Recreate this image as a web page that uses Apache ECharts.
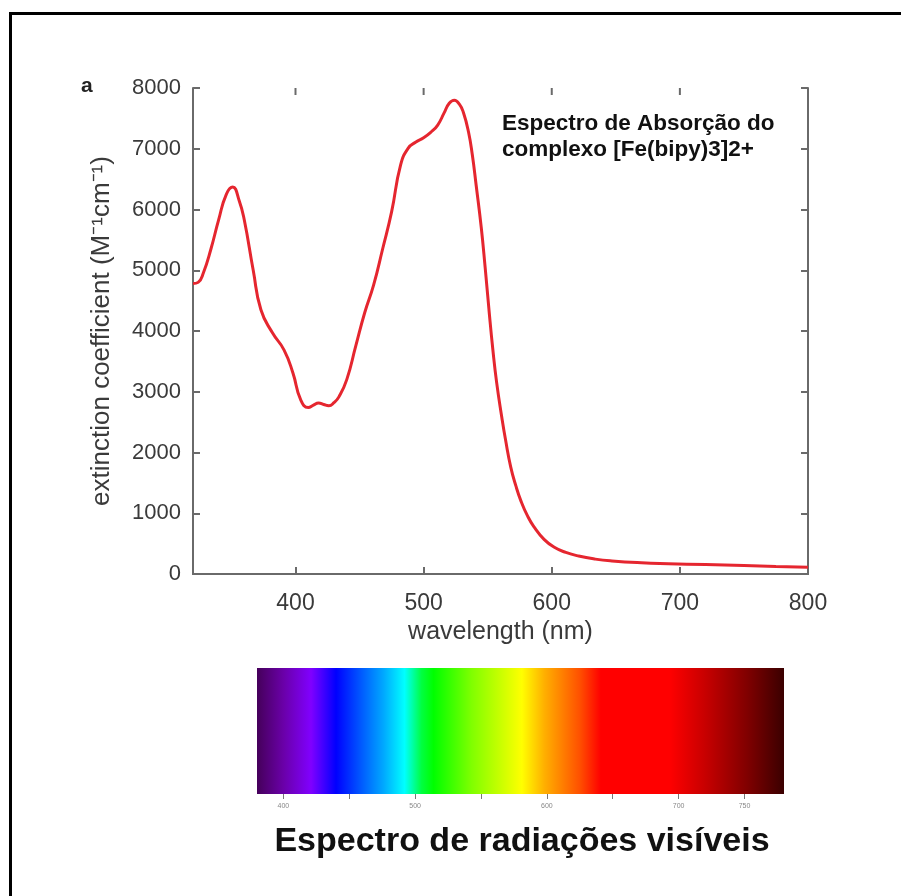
<!DOCTYPE html>
<html>
<head>
<meta charset="utf-8">
<script src="https://cdn.jsdelivr.net/npm/echarts@6/dist/echarts.min.js"></script>
<style>
  html, body { margin: 0; padding: 0; background: #fff; }
  #frame {
    position: absolute; left: 9px; top: 12px; width: 892px; height: 884px;
    border-left: 3px solid #000; border-top: 3px solid #000;
  }
  #chart { position: absolute; left: 0; top: 0; width: 901px; height: 896px; }
</style>
</head>
<body>
<div id="frame"></div>
<div id="chart"></div>
<script>
// absorption spectrum of [Fe(bipy)3]2+
const wavelength = [320, 324, 328, 334, 340, 346, 351, 356, 360, 367, 373, 382, 391, 398, 404, 410, 414, 418, 422, 426, 430, 434, 440, 447, 454, 461, 468, 475, 482, 488, 494, 500, 506, 511, 516, 520, 524, 528, 531, 535, 538, 541, 545, 548, 551, 554, 557, 561, 564, 568, 572, 576, 581, 586, 594, 602, 611, 621, 634, 647, 670, 691, 720, 750, 775, 800];
const extinction = [4780, 4800, 4950, 5350, 5830, 6250, 6370, 6150, 5830, 5000, 4350, 3970, 3690, 3310, 2870, 2740, 2780, 2815, 2790, 2770, 2820, 2920, 3200, 3750, 4300, 4760, 5350, 5960, 6730, 7010, 7110, 7180, 7280, 7390, 7590, 7750, 7800, 7730, 7600, 7280, 6900, 6400, 5700, 5050, 4350, 3700, 3150, 2580, 2200, 1760, 1450, 1200, 960, 780, 570, 440, 355, 295, 245, 215, 185, 170, 155, 140, 125, 112];

const xTicks = [400, 500, 600, 700, 800];
const yMax = 8000;

// visible spectrum bar
const specWl = [380, 400, 421, 440, 457, 476, 492, 505, 514, 543, 581, 598, 625, 641, 693, 720, 752, 780];
const specColor = ['#45005a', '#6a00a8', '#8000ff', '#0000ff', '#0050ff', '#00a8ff', '#00ffff', '#00ff40', '#00ff00', '#80ff00', '#ffff00', '#ffb000', '#ff5000', '#ff0000', '#ff0000', '#c80000', '#800000', '#3a0000'];
const specTicks = [400, 450, 500, 550, 600, 650, 700, 750];
const specLabels = [400, 500, 600, 700, 750];

const chart = echarts.init(document.getElementById('chart'));
const txt = '#3a3a3a';
const axisCol = '#6a6a6a';

chart.setOption({
  animation: false,
  textStyle: { fontFamily: 'Liberation Sans, Arial, sans-serif' },
  grid: [
    { left: 193, top: 88, width: 615, height: 486 },
    { left: 257, top: 668, width: 527, height: 126 }
  ],
  graphic: [
    { type: 'text', x: 81, y: 76, style: { text: 'a', font: 'bold 21px Liberation Sans', fill: '#222' } },
    { type: 'text', x: 502, y: 111, style: { text: 'Espectro de Absorção do\ncomplexo [Fe(bipy)3]2+', font: 'bold 22.5px Liberation Sans', fill: '#111', lineHeight: 26 } },
    { type: 'text', x: 522, y: 825, style: { text: 'Espectro de radiações visíveis', font: 'bold 34px Liberation Sans', fill: '#111', align: 'center' } }
  ],
  xAxis: [
    {
      gridIndex: 0, type: 'value', min: 320, max: 800, position: 'bottom',
      name: 'wavelength (nm)', nameLocation: 'middle', nameGap: 45,
      nameTextStyle: { fontSize: 25, color: txt },
      axisLine: { lineStyle: { color: axisCol, width: 2 } },
      axisTick: { inside: true, length: 7, customValues: xTicks, lineStyle: { color: axisCol, width: 2 } },
      axisLabel: { customValues: xTicks, fontSize: 23, color: txt, margin: 18 },
      splitLine: { show: false }
    },
    {
      gridIndex: 0, type: 'value', min: 320, max: 800, position: 'top',
      axisLine: { lineStyle: { color: axisCol, width: 2 } },
      axisTick: { show: false },
      axisLabel: { show: false },
      splitLine: { show: false }
    },
    {
      gridIndex: 1, type: 'value', min: 380, max: 780, position: 'bottom',
      axisLine: { show: false },
      axisTick: { show: true, length: 5, customValues: specTicks, lineStyle: { color: '#777', width: 1 } },
      axisLabel: { customValues: specLabels, fontSize: 7, color: '#888', margin: 9 },
      splitLine: { show: false }
    }
  ],
  yAxis: [
    {
      gridIndex: 0, type: 'value', min: 0, max: yMax, interval: 1000, position: 'left',
      name: 'extinction coefficient (M⁻¹cm⁻¹)', nameLocation: 'middle', nameGap: 78,
      nameTextStyle: { fontSize: 26, color: txt },
      axisLine: { show: true, lineStyle: { color: axisCol, width: 2 } },
      axisTick: { show: true, inside: true, length: 7, lineStyle: { color: axisCol, width: 2 } },
      axisLabel: { fontSize: 22, color: txt, margin: 12, formatter: (v) => String(v) },
      splitLine: { show: false }
    },
    {
      gridIndex: 0, type: 'value', min: 0, max: yMax, interval: 1000, position: 'right',
      axisLine: { show: true, lineStyle: { color: axisCol, width: 2 } },
      axisTick: { show: true, inside: true, length: 7, lineStyle: { color: axisCol, width: 2 } },
      axisLabel: { show: false },
      splitLine: { show: false }
    },
    {
      gridIndex: 1, type: 'value', min: 0, max: 1, show: false
    }
  ],
  series: [
    {
      type: 'line', xAxisIndex: 0, yAxisIndex: 0,
      data: wavelength.map((w, i) => [w, extinction[i]]),
      smooth: 0.5, showSymbol: false,
      lineStyle: { color: '#e5262f', width: 3 }
    },
    {
      // tick marks on the top frame edge, hanging down into the plot
      type: 'custom', xAxisIndex: 0, yAxisIndex: 0, silent: true,
      data: xTicks.map((v) => [v, yMax]),
      renderItem: function (params, api) {
        const p = api.coord([api.value(0), api.value(1)]);
        return {
          type: 'line',
          shape: { x1: p[0], y1: p[1], x2: p[0], y2: p[1] + 7 },
          style: { stroke: axisCol, lineWidth: 2 }
        };
      }
    },
    {
      type: 'custom', xAxisIndex: 2, yAxisIndex: 2,
      data: [[specWl[0], specWl[specWl.length - 1]]],
      renderItem: function (params, api) {
        const p0 = api.coord([api.value(0), 1]);
        const p1 = api.coord([api.value(1), 0]);
        const span = specWl[specWl.length - 1] - specWl[0];
        const stops = specWl.map((w, i) => ({ offset: (w - specWl[0]) / span, color: specColor[i] }));
        return {
          type: 'rect',
          shape: { x: p0[0], y: p0[1], width: p1[0] - p0[0], height: p1[1] - p0[1] },
          style: { fill: new echarts.graphic.LinearGradient(0, 0, 1, 0, stops) }
        };
      }
    }
  ]
});
</script>
</body>
</html>
